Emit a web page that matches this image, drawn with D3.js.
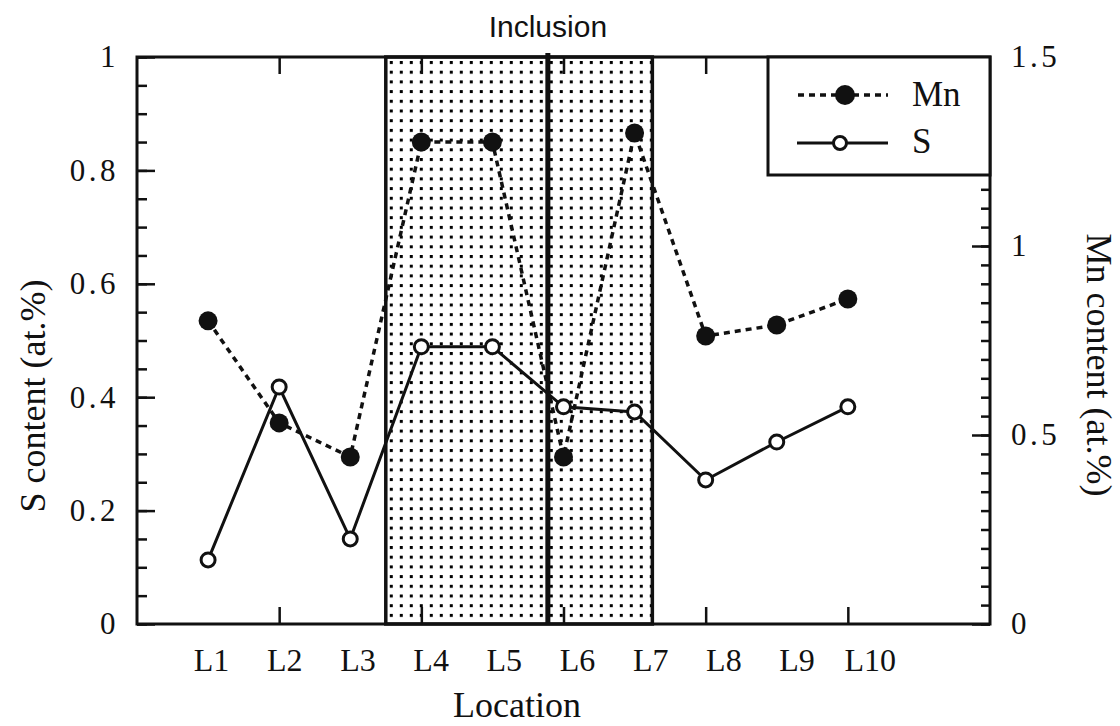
<!DOCTYPE html>
<html>
<head>
<meta charset="utf-8">
<script src="https://cdn.jsdelivr.net/npm/d3@7"></script>
<style>
  body { margin: 0; background: #fff; }
  svg text { font-family: "Liberation Serif", "Times New Roman", serif; fill: #111; }
</style>
</head>
<body>
<div id="chart"></div>
<script>
// Data
const locations = ["L1", "L2", "L3", "L4", "L5", "L6", "L7", "L8", "L9", "L10"];
const sContent = [0.113, 0.418, 0.150, 0.489, 0.489, 0.383, 0.374, 0.254, 0.321, 0.383];
const mnContent = [0.802, 0.532, 0.442, 1.275, 1.275, 0.442, 1.299, 0.762, 0.791, 0.860];
const leftTicks = [0, 0.2, 0.4, 0.6, 0.8, 1];
const rightTicks = [0, 0.5, 1, 1.5];
const xMajorTicks = [2, 4, 6, 8, 10];
const inclusionRange = [3.5, 7.25];
const interfacePos = 5.78;

const width = 1120;
const height = 726;
const plot = { left: 137, right: 990, top: 57, bottom: 624 };

const svg = d3
  .select("#chart")
  .append("svg")
  .attr("width", width)
  .attr("height", height);

// Scales
const x = d3.scaleLinear().domain([0, 12]).range([plot.left, plot.right]);
const yS = d3.scaleLinear().domain([0, 1]).range([plot.bottom, plot.top]);
const yMn = d3.scaleLinear().domain([0, 1.5]).range([plot.bottom, plot.top]);

// Dotted fill for the inclusion
const pattern = svg
  .append("defs")
  .append("pattern")
  .attr("id", "dots")
  .attr("patternUnits", "userSpaceOnUse")
  .attr("x", x(inclusionRange[0]) + 4)
  .attr("y", plot.top + 4)
  .attr("width", 10)
  .attr("height", 9.7);
pattern.append("rect").attr("width", 3).attr("height", 3).attr("fill", "#000");

svg
  .append("rect")
  .attr("x", x(inclusionRange[0]))
  .attr("y", plot.top)
  .attr("width", x(inclusionRange[1]) - x(inclusionRange[0]))
  .attr("height", plot.bottom - plot.top)
  .attr("fill", "url(#dots)")
  .attr("stroke", "#111")
  .attr("stroke-width", 3.5);

svg
  .append("line")
  .attr("x1", x(interfacePos))
  .attr("x2", x(interfacePos))
  .attr("y1", plot.top - 4)
  .attr("y2", plot.bottom)
  .attr("stroke", "#111")
  .attr("stroke-width", 5);

svg
  .append("text")
  .attr("x", x(interfacePos))
  .attr("y", 37)
  .attr("text-anchor", "middle")
  .style("font-family", "'Liberation Sans', Arial, sans-serif")
  .style("font-size", "30px")
  .text("Inclusion");

// Axes
function styleAxis(g) {
  g.select(".domain").remove();
  g.selectAll(".tick line").attr("stroke", "#111").attr("stroke-width", 2.5);
  g.selectAll("text").style("font-family", "'Liberation Serif', serif");
}

// left: minor + major
svg.append("g")
  .attr("transform", `translate(${plot.left},0)`)
  .call(d3.axisLeft(yS).tickValues(d3.range(0, 1.001, 0.05)).tickSize(-10).tickFormat(""))
  .call(styleAxis);
svg.append("g")
  .attr("transform", `translate(${plot.left},0)`)
  .call(d3.axisLeft(yS).tickValues(leftTicks).tickSize(-18).tickPadding(18).tickFormat(d3.format("")))
  .call(styleAxis)
  .selectAll("text")
  .style("font-size", "31px")
  .style("letter-spacing", "3.5px");

// right: minor + major
svg.append("g")
  .attr("transform", `translate(${plot.right},0)`)
  .call(d3.axisRight(yMn).tickValues(d3.range(0, 1.501, 0.05)).tickSize(-9).tickFormat(""))
  .call(styleAxis);
svg.append("g")
  .attr("transform", `translate(${plot.right},0)`)
  .call(d3.axisRight(yMn).tickValues(rightTicks).tickSize(-18).tickPadding(21).tickFormat(d3.format("")))
  .call(styleAxis)
  .selectAll("text")
  .style("font-size", "31px")
  .style("letter-spacing", "3.5px");

// bottom and top ticks
svg.append("g")
  .attr("transform", `translate(0,${plot.bottom})`)
  .call(d3.axisBottom(x).tickValues(xMajorTicks).tickSize(-17).tickFormat(""))
  .call(styleAxis);
svg.append("g")
  .attr("transform", `translate(0,${plot.top})`)
  .call(d3.axisTop(x).tickValues(xMajorTicks).tickSize(-17).tickFormat(""))
  .call(styleAxis);
// location labels sit a little right of their ticks in the original
svg.append("g")
  .attr("transform", `translate(0,${plot.bottom})`)
  .call(d3.axisBottom(x).tickValues(d3.range(1, 11)).tickSize(0).tickPadding(24).tickFormat((d) => locations[d - 1]))
  .call(styleAxis)
  .selectAll("text")
  .attr("dx", (d) => 3 + (d - 1) * 2.1)
  .style("font-size", "32px");

// Frame
svg
  .append("rect")
  .attr("x", plot.left)
  .attr("y", plot.top)
  .attr("width", plot.right - plot.left)
  .attr("height", plot.bottom - plot.top)
  .attr("fill", "none")
  .attr("stroke", "#111")
  .attr("stroke-width", 3);

// Axis titles
svg.append("text")
  .attr("x", 517)
  .attr("y", 717)
  .attr("text-anchor", "middle")
  .style("font-size", "36px")
  .text("Location");
svg.append("text")
  .attr("transform", "translate(45,396) rotate(-90)")
  .attr("text-anchor", "middle")
  .style("font-size", "36px")
  .text("S content (at.%)");
svg.append("text")
  .attr("transform", "translate(1087,365) rotate(90)")
  .attr("text-anchor", "middle")
  .style("font-size", "36px")
  .text("Mn content (at.%)");

// Lines
const idx = d3.range(locations.length);
const mnLine = d3.line().x((i) => x(i + 1)).y((i) => yMn(mnContent[i]));
const sLine = d3.line().x((i) => x(i + 1)).y((i) => yS(sContent[i]));

svg.append("path")
  .datum(idx)
  .attr("d", mnLine)
  .attr("fill", "none")
  .attr("stroke", "#111")
  .attr("stroke-width", 3.5)
  .attr("stroke-dasharray", "6,5");
svg.append("path")
  .datum(idx)
  .attr("d", sLine)
  .attr("fill", "none")
  .attr("stroke", "#111")
  .attr("stroke-width", 3);

svg.selectAll(".mn-dot")
  .data(idx)
  .enter()
  .append("circle")
  .attr("class", "mn-dot")
  .attr("cx", (i) => x(i + 1))
  .attr("cy", (i) => yMn(mnContent[i]))
  .attr("r", 9.5)
  .attr("fill", "#111");
svg.selectAll(".s-dot")
  .data(idx)
  .enter()
  .append("circle")
  .attr("class", "s-dot")
  .attr("cx", (i) => x(i + 1))
  .attr("cy", (i) => yS(sContent[i]))
  .attr("r", 7)
  .attr("fill", "#fff")
  .attr("stroke", "#111")
  .attr("stroke-width", 3);

// Legend
const legend = svg.append("g");
legend.append("rect")
  .attr("x", 768)
  .attr("y", plot.top)
  .attr("width", plot.right - 768)
  .attr("height", 118)
  .attr("fill", "#fff")
  .attr("stroke", "#111")
  .attr("stroke-width", 3);
legend.append("line")
  .attr("x1", 798).attr("x2", 888).attr("y1", 95).attr("y2", 95)
  .attr("stroke", "#111").attr("stroke-width", 3.5).attr("stroke-dasharray", "6,5");
legend.append("circle").attr("cx", 845).attr("cy", 95).attr("r", 10).attr("fill", "#111");
legend.append("text").attr("x", 912).attr("y", 106).style("font-size", "35px").text("Mn");
legend.append("line")
  .attr("x1", 797).attr("x2", 888).attr("y1", 143).attr("y2", 143)
  .attr("stroke", "#111").attr("stroke-width", 3);
legend.append("circle").attr("cx", 840).attr("cy", 143).attr("r", 6.5)
  .attr("fill", "#fff").attr("stroke", "#111").attr("stroke-width", 3);
legend.append("text").attr("x", 912).attr("y", 153).style("font-size", "35px").text("S");
</script>
</body>
</html>
